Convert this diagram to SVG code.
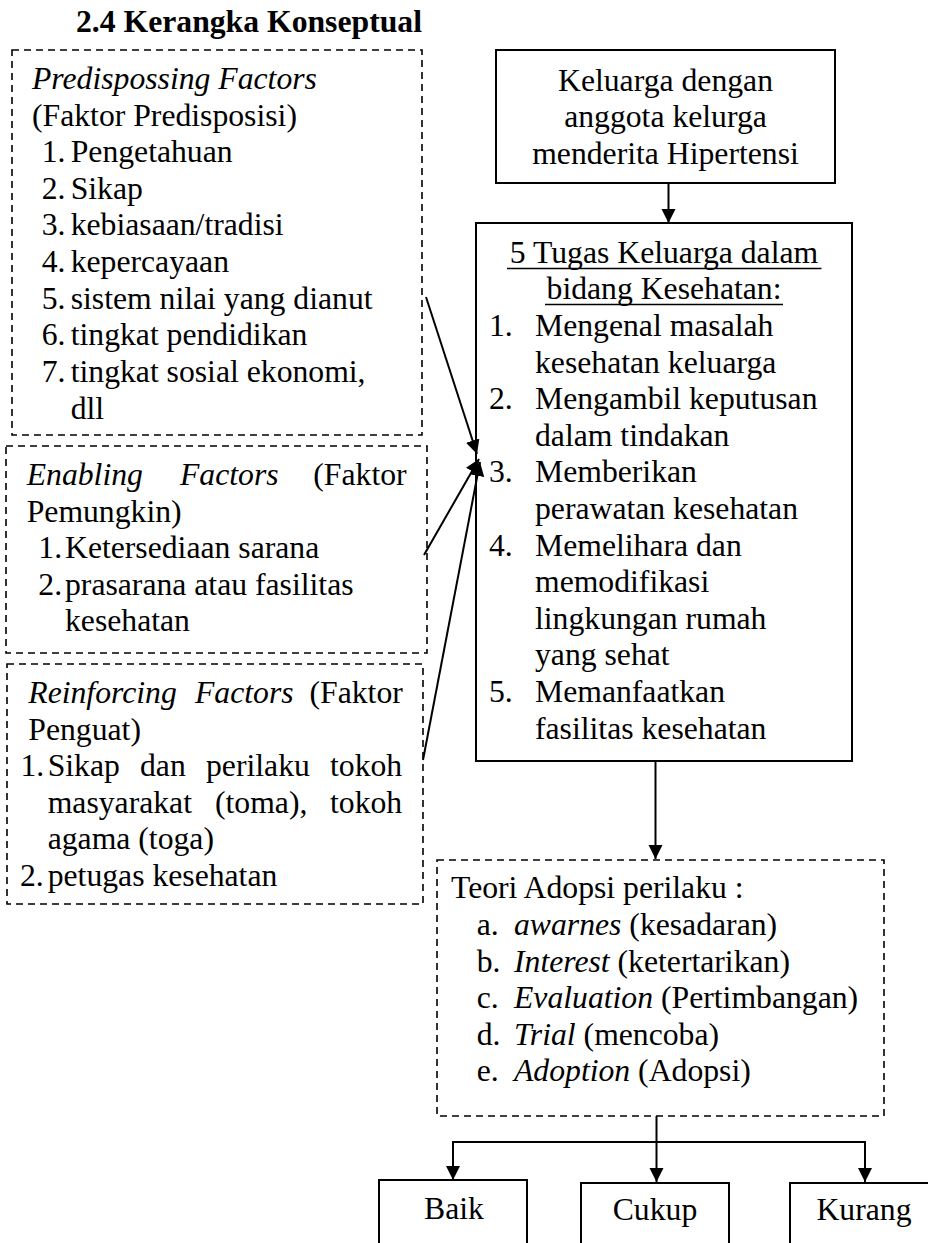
<svg xmlns="http://www.w3.org/2000/svg" width="928" height="1243" viewBox="0 0 928 1243">
<style>
text{font-family:"Liberation Serif","Times New Roman",serif;font-size:31.7px;fill:#000}
.b{font-weight:bold}
.i{font-style:italic}
.m{text-anchor:middle}
.dash{fill:none;stroke:#000;stroke-width:1.6;stroke-dasharray:7 5}
.solid{fill:none;stroke:#000;stroke-width:2}
.con{fill:none;stroke:#000;stroke-width:2}
</style>
<defs>
<marker id="ah" markerUnits="userSpaceOnUse" markerWidth="16" markerHeight="16" refX="14" refY="7" orient="auto">
<path d="M0,0 L14,7 L0,14 z" fill="#000"/>
</marker>
</defs>
<rect width="928" height="1243" fill="#fff"/>
<g id="title"><text class="b" x="76" y="32">2.4 Kerangka Konseptual</text></g>

<g id="predisposing">
<rect class="dash" x="12" y="50" width="410" height="385"/>
<text class="i" x="32" y="89">Predispossing Factors</text>
<text x="32" y="125.5">(Faktor Predisposisi)</text>
<text x="41.7" y="162">1.</text><text x="70.7" y="162">Pengetahuan</text>
<text x="41.7" y="198.7">2.</text><text x="70.7" y="198.7">Sikap</text>
<text x="41.7" y="235.3">3.</text><text x="70.7" y="235.3">kebiasaan/tradisi</text>
<text x="41.7" y="272">4.</text><text x="70.7" y="272">kepercayaan</text>
<text x="41.7" y="308.6">5.</text><text x="70.7" y="308.6">sistem nilai yang dianut</text>
<text x="41.7" y="345.3">6.</text><text x="70.7" y="345.3">tingkat pendidikan</text>
<text x="41.7" y="382">7.</text><text x="70.7" y="382">tingkat sosial ekonomi,</text>
<text x="70.7" y="418.5">dll</text>
</g>

<g id="enabling">
<rect class="dash" x="6" y="446" width="421" height="207"/>
<text class="i" x="26.7" y="485">Enabling</text>
<text class="i" x="180" y="485">Factors</text>
<text x="313.3" y="485">(Faktor</text>
<text x="26.7" y="521.6">Pemungkin)</text>
<text x="38.3" y="558.2">1.</text><text x="65" y="558.2">Ketersediaan sarana</text>
<text x="38.3" y="594.8">2.</text><text x="65" y="594.8">prasarana atau fasilitas</text>
<text x="65" y="631.4">kesehatan</text>
</g>

<g id="reinforcing">
<rect class="dash" x="7" y="664" width="416" height="240"/>
<text class="i" x="28.3" y="703">Reinforcing</text>
<text class="i" x="195" y="703">Factors</text>
<text x="309.5" y="703">(Faktor</text>
<text x="28.3" y="739.6">Penguat)</text>
<text x="20.5" y="776.2">1.</text>
<text x="47.7" y="776.2">Sikap</text>
<text x="140" y="776.2">dan</text>
<text x="206" y="776.2">perilaku</text>
<text x="330" y="776.2">tokoh</text>
<text x="47.7" y="812.8">masyarakat</text>
<text x="215" y="812.8">(toma),</text>
<text x="330" y="812.8">tokoh</text>
<text x="47.7" y="849.4">agama (toga)</text>
<text x="20" y="886">2.</text><text x="47.7" y="886">petugas kesehatan</text>
</g>

<g id="keluarga">
<rect class="solid" x="496" y="50" width="339" height="133"/>
<text class="m" x="665.5" y="90.7">Keluarga dengan</text>
<text class="m" x="665.5" y="127.3">anggota kelurga</text>
<text class="m" x="665.5" y="164">menderita Hipertensi</text>
</g>

<g id="tugas">
<rect class="solid" x="476" y="223" width="376" height="538"/>
<text class="m" x="664" y="262.7">5 Tugas Keluarga dalam</text>
<line x1="507" y1="268.5" x2="821.5" y2="268.5" stroke="#000" stroke-width="1.6"/>
<text class="m" x="664" y="299.3">bidang Kesehatan:</text>
<line x1="545" y1="304.5" x2="783" y2="304.5" stroke="#000" stroke-width="1.6"/>
<text x="489" y="335.9">1.</text><text x="535" y="335.9">Mengenal masalah</text>
<text x="535" y="372.5">kesehatan keluarga</text>
<text x="489" y="409.1">2.</text><text x="535" y="409.1">Mengambil keputusan</text>
<text x="535" y="445.7">dalam tindakan</text>
<text x="489" y="482.3">3.</text><text x="535" y="482.3">Memberikan</text>
<text x="535" y="518.9">perawatan kesehatan</text>
<text x="489" y="555.5">4.</text><text x="535" y="555.5">Memelihara dan</text>
<text x="535" y="592.1">memodifikasi</text>
<text x="535" y="628.7">lingkungan rumah</text>
<text x="535" y="665.3">yang sehat</text>
<text x="489" y="701.9">5.</text><text x="535" y="701.9">Memanfaatkan</text>
<text x="535" y="738.5">fasilitas kesehatan</text>
</g>

<g id="teori">
<rect class="dash" x="437" y="860" width="447" height="256"/>
<text x="451" y="898">Teori Adopsi perilaku :</text>
<text x="476.7" y="935">a.</text><text x="514" y="935"><tspan class="i">awarnes</tspan> (kesadaran)</text>
<text x="476.7" y="971.6">b.</text><text x="514" y="971.6"><tspan class="i">Interest</tspan> (ketertarikan)</text>
<text x="476.7" y="1008.2">c.</text><text x="514" y="1008.2"><tspan class="i">Evaluation</tspan> (Pertimbangan)</text>
<text x="476.7" y="1044.8">d.</text><text x="514" y="1044.8"><tspan class="i">Trial</tspan> (mencoba)</text>
<text x="476.7" y="1081.4">e.</text><text x="514" y="1081.4"><tspan class="i">Adoption</tspan> (Adopsi)</text>
</g>

<g id="baik">
<rect class="solid" x="379" y="1180" width="148" height="90"/>
<text class="m" x="454" y="1219">Baik</text>
</g>
<g id="cukup">
<rect class="solid" x="581" y="1183" width="148" height="90"/>
<text class="m" x="655" y="1220">Cukup</text>
</g>
<g id="kurang">
<rect class="solid" x="790" y="1183" width="160" height="90"/>
<text class="m" x="864" y="1220">Kurang</text>
</g>

<g id="connectors">
<line class="con" x1="668.5" y1="183" x2="668.5" y2="223" marker-end="url(#ah)"/>
<line class="con" x1="426" y1="297" x2="477" y2="454" marker-end="url(#ah)"/>
<line class="con" x1="424" y1="555" x2="479" y2="459" marker-end="url(#ah)"/>
<line class="con" x1="423" y1="760" x2="480" y2="462" marker-end="url(#ah)"/>
<line class="con" x1="655.5" y1="761" x2="655.5" y2="859" marker-end="url(#ah)"/>
<line class="con" x1="656.5" y1="1116" x2="656.5" y2="1182" marker-end="url(#ah)"/>
<line class="con" x1="452" y1="1142" x2="866" y2="1142"/>
<line class="con" x1="453" y1="1142" x2="453" y2="1180" marker-end="url(#ah)"/>
<line class="con" x1="865" y1="1142" x2="865" y2="1182" marker-end="url(#ah)"/>
</g>
</svg>
